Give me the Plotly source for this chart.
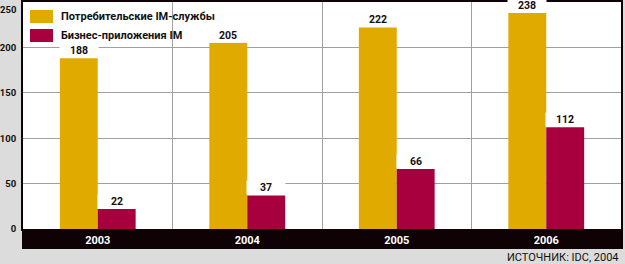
import plotly.graph_objects as go

years = ["2003", "2004", "2005", "2006"]
consumer_im = [188, 205, 222, 238]
business_im = [22, 37, 66, 112]
series_names = ["Потребительские IM-службы", "Бизнес-приложения IM"]
y_ticks = [0, 50, 100, 150, 200, 250]
source_text = "ИСТОЧНИК: IDC, 2004"

YELLOW = "#E0AA00"
RED = "#A8003F"
BAND = "#0E0204"
BG = "#DCDCDC"
FONT = "Roboto, Liberation Sans, sans-serif"

W, H = 625, 264
L, R, T, B = 23, 4, 2, 35
PW = W - L - R
PH = H - T - B


def px(x):
    return (x - L) / PW


def py(y):
    return (H - B - y) / PH


fig = go.Figure()
fig.add_trace(go.Bar(x=years, y=consumer_im, name=series_names[0],
                     marker=dict(color=YELLOW, line=dict(width=0))))
fig.add_trace(go.Bar(x=years, y=business_im, name=series_names[1],
                     marker=dict(color=RED, line=dict(width=0))))

annotations = []
for vals, shift in ((consumer_im, -19), (business_im, 19)):
    for i, v in enumerate(vals):
        annotations.append(dict(
            x=i, y=v, xref="x", yref="y", text=f"<b>{v}</b>", showarrow=False,
            xshift=shift, yanchor="bottom", xanchor="center",
            width=38, height=13, borderpad=0, bgcolor="white",
            font=dict(family=FONT, size=10.5, color="#111111")))

# top y tick label (sits just below the frame, as in the original)
annotations.append(dict(x=0, y=y_ticks[-1], xref="paper", yref="y",
                        text=f"<b>{y_ticks[-1]}</b>", showarrow=False,
                        xanchor="right", yanchor="middle", xshift=-4, yshift=-7,
                        font=dict(family=FONT, size=9.5, color="#111111")))

# legend (manual)
shapes = []
for i, col in enumerate((YELLOW, RED)):
    y0 = 10 + i * 19
    shapes.append(dict(type="rect", xref="paper", yref="paper",
                       x0=px(30), x1=px(53), y0=py(y0), y1=py(y0 + 13),
                       fillcolor=col, line=dict(width=0), layer="above"))
    annotations.append(dict(x=px(59), y=py(y0 + 6.5), xref="paper", yref="paper",
                            text=f"<b>{series_names[i]}</b>", showarrow=False,
                            xanchor="left", yanchor="middle",
                            font=dict(family=FONT, size=11, color="#111111")))

# black x-axis band
shapes.append(dict(type="rect", xref="paper", yref="paper",
                   x0=px(22), x1=px(623), y0=py(249), y1=py(229),
                   fillcolor=BAND, line=dict(width=0), layer="below"))

annotations.append(dict(x=1, y=py(257), xref="paper", yref="paper",
                        text=source_text, showarrow=False,
                        xanchor="right", yanchor="middle",
                        font=dict(family=FONT, size=11, color="#111111")))

fig.update_layout(
    width=W, height=H,
    margin=dict(l=L, r=R, t=T, b=B, pad=0, autoexpand=False),
    paper_bgcolor=BG, plot_bgcolor="white",
    barmode="group", bargap=0.493, bargroupgap=0,
    showlegend=False,
    shapes=shapes, annotations=annotations,
    xaxis=dict(type="category", categoryorder="array", categoryarray=years,
               range=[-0.5, len(years) - 0.5], autorange=False, automargin=False,
               tickson="boundaries", showgrid=True,
               gridcolor="#A0A0A0", gridwidth=1, ticks="",
               ticklabelstandoff=0, tickangle=0,
               tickfont=dict(family=FONT, size=11, color="white", weight="bold"),
               showline=True, linecolor=BAND, linewidth=2, mirror=True),
    yaxis=dict(range=[0, 250], autorange=False, automargin=False,
               tickvals=y_ticks[:-1], showgrid=True,
               gridcolor="#A0A0A0", gridwidth=1, zeroline=False, ticks="",
               ticklabelstandoff=3,
               tickfont=dict(family=FONT, size=9.5, color="#111111", weight="bold"),
               showline=True, linecolor=BAND, linewidth=2, mirror=True),
)

fig.write_html("out.html")
